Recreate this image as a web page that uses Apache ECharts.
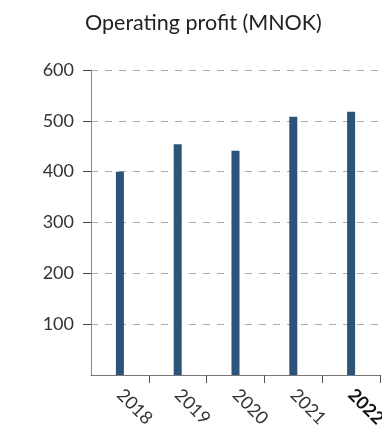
<!DOCTYPE html>
<html>
<head>
<meta charset="utf-8">
<script src="https://cdn.jsdelivr.net/npm/echarts@6/dist/echarts.min.js"></script>
<style>
  html, body { margin: 0; padding: 0; background: #fff; }
  #chart { width: 382px; height: 428px; }
</style>
</head>
<body>
<div id="chart"></div>
<script>
// Operating profit by year, MNOK
const years = ['2018', '2019', '2020', '2021', '2022*'];
const operatingProfit = [400, 454, 441, 508, 518];
const yTickValues = [100, 200, 300, 400, 500, 600];
const yRange = { min: 0, max: 600, interval: 100 };

const chart = echarts.init(document.getElementById('chart'), null, { renderer: 'canvas' });

chart.setOption({
  animation: false,
  title: {
    text: 'Operating profit (MNOK)',
    left: 80,
    top: 7,
    textStyle: { fontFamily: 'Lato', fontSize: 21.5, fontWeight: 'normal', color: '#222' }
  },
  grid: { left: 91, right: 2, top: 70, bottom: 53, containLabel: false, outerBoundsMode: 'none' },
  xAxis: {
    type: 'category',
    data: years,
    boundaryGap: true,
    axisLine: { lineStyle: { color: '#777', width: 1 } },
    axisTick: {
      show: true,
      length: 8,
      interval: (index) => index !== 0,
      lineStyle: { color: '#555' }
    },
    axisLabel: {
      rotate: -45,
      margin: 17,
      fontFamily: 'Lato',
      fontSize: 18,
      color: '#333',
      formatter: v => v.endsWith('*') ? '{b|' + v + '}' : v,
      rich: { b: { fontFamily: 'Lato', fontSize: 18, fontWeight: 'bold', color: '#111' } }
    }
  },
  yAxis: {
    type: 'value',
    min: yRange.min,
    max: yRange.max,
    interval: yRange.interval,
    axisLine: { show: true, lineStyle: { color: '#888', width: 1 } },
    axisTick: { show: true, length: 8, customValues: yTickValues, lineStyle: { color: '#444' } },
    axisLabel: {
      margin: 17,
      fontFamily: 'Lato',
      fontSize: 18,
      color: '#333',
      customValues: yTickValues
    },
    splitLine: { show: true, lineStyle: { color: '#aaa', type: [7, 7], width: 1 } }
  },
  series: [{
    type: 'bar',
    data: operatingProfit,
    barWidth: 8,
    itemStyle: { color: '#2c5378' }
  }]
});
</script>
</body>
</html>
